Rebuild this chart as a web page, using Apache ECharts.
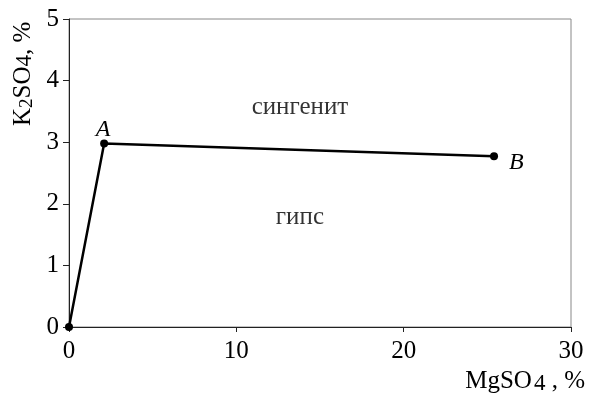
<!DOCTYPE html>
<html><head><meta charset="utf-8">
<script src="https://cdn.jsdelivr.net/npm/echarts@6/dist/echarts.min.js"></script>
<style>html,body{margin:0;padding:0;background:#fff}#c{width:590px;height:398px}</style>
</head><body><div id="c"></div>
<script>
const xMgSO4 = [0, 2.1, 25.4];
const yK2SO4 = [0, 2.98, 2.77];
const pointNames = ['', 'A', 'B'];
const regionNames = ['сингенит', 'гипс'];
const regionX = [13.8, 13.8];
const regionY = [3.57, 1.78];
const xTicks = [0, 10, 20, 30];
const yTicks = [0, 1, 2, 3, 4, 5];

const font = '"Liberation Serif", "Times New Roman", serif';
const chart = echarts.init(document.getElementById('c'));
const labelPos = [null, {position: 'top', offset: [-1, 7]}, {position: 'right', offset: [6, 6]}];
chart.setOption({
  animation: false,
  backgroundColor: '#fff',
  grid: {left: 69, right: 19, top: 19, bottom: 71, show: true, borderColor: '#888', borderWidth: 1},
  xAxis: {
    type: 'value', min: xTicks[0], max: xTicks[xTicks.length - 1], interval: 10,
    axisLine: {onZero: false, lineStyle: {color: '#222', width: 1}},
    axisTick: {inside: false, length: 5, lineStyle: {color: '#222'}},
    splitLine: {show: false},
    axisLabel: {color: '#000', fontFamily: font, fontSize: 25, margin: 12}
  },
  yAxis: {
    type: 'value', min: yTicks[0], max: yTicks[yTicks.length - 1], interval: 1,
    axisLine: {onZero: false, lineStyle: {color: '#222', width: 1}},
    axisTick: {inside: false, length: 6, lineStyle: {color: '#222'}},
    splitLine: {show: false},
    axisLabel: {color: '#000', fontFamily: font, fontSize: 25, margin: 10}
  },
  graphic: [
    {type: 'text', x: 9, y: 126, rotation: Math.PI / 2,
      style: {text: '{n|K}{s|2}{n|SO}{s4|4}{n|, %}', rich: {
        n: {fontFamily: font, fontSize: 25, fill: '#000'},
        s: {fontFamily: font, fontSize: 19, fill: '#000', padding: [9, 0, 0, 0]},
        s4: {fontFamily: font, fontSize: 23, fill: '#000', padding: [4, 0, 0, 0]}
      }}},
    {type: 'text', right: 5, top: 369,
      style: {text: '{n|MgSO}{s|4}{n| , %}', rich: {
        n: {fontFamily: font, fontSize: 25, fill: '#000'},
        s: {fontFamily: font, fontSize: 23, fill: '#000', padding: [5, 0, 0, 2]}
      }}}
  ],
  series: [
    {
      type: 'line',
      data: xMgSO4.map((x, i) => {
        const o = {value: [x, yK2SO4[i]], name: pointNames[i]};
        if (labelPos[i]) o.label = labelPos[i];
        return o;
      }),
      symbol: 'circle', symbolSize: 8,
      lineStyle: {color: '#000', width: 2.5},
      itemStyle: {color: '#000'},
      label: {
        show: true, fontFamily: font, fontStyle: 'italic', fontSize: 24, color: '#000',
        formatter: p => p.name
      },
      emphasis: {disabled: true}
    },
    {
      type: 'scatter', symbolSize: 0,
      data: regionNames.map((n, i) => ({value: [regionX[i], regionY[i]], name: n})),
      label: {show: true, position: 'inside', fontFamily: font, fontSize: 25, color: '#000', formatter: p => p.name},
      emphasis: {disabled: true}
    }
  ]
});
</script></body></html>
